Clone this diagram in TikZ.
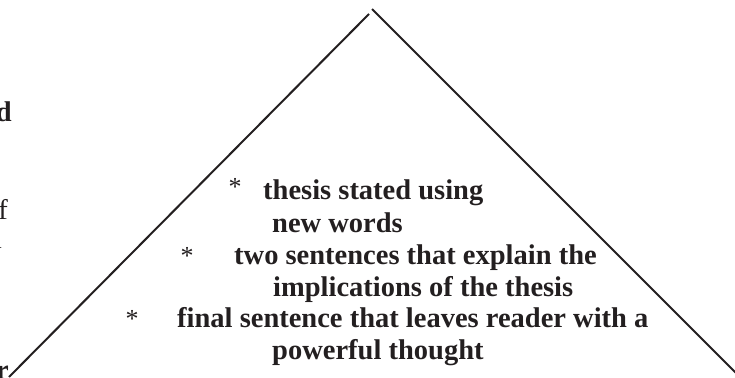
\documentclass[tikz,border=0pt]{standalone}
\usepackage{fontspec}
\setmainfont{Liberation Serif}
\definecolor{ink}{HTML}{231F20}
\begin{document}
\begin{tikzpicture}[x=1pt,y=1pt,
  txt/.style={inner sep=0pt, anchor=base west, font=\bfseries\fontsize{28.5}{33}\selectfont, text=ink},
  side/.style={inner sep=0pt, anchor=base east, font=\fontsize{28.5}{33}\selectfont, text=ink},
  star/.style={inner sep=0pt, font=\fontsize{26}{30}\selectfont, text=ink},
  edge/.style={line width=2pt, ink}]
\useasboundingbox (0,0) rectangle (735,377);
\clip (0,0) rectangle (735,377);
% pyramid sides
\coordinate (topL) at (369,363);
\coordinate (botL) at (9,0);
\coordinate (topR) at (372,368);
\coordinate (botR) at (737,3);
\draw[edge] (botL) -- (topL);
\draw[edge] (topR) -- (botR);
% clipped text of a left column
\node[side, font=\bfseries\fontsize{28.5}{33}\selectfont] (s1) at (12,255) {and};
\node[side] (s2) at (8,157) {of};
\node[side] (s3) at (2,128) {in};
\node[side, font=\bfseries\fontsize{28.5}{33}\selectfont] (s4) at (9,-2) {for};
% stars
\node[star, anchor=center] (st1) at (235,190) {*};
\node[star, anchor=center] (st2) at (187,121) {*};
\node[star, anchor=center] (st3) at (132,58) {*};
% text
\node[txt] (l1) at (263,177) {thesis stated using};
\node[txt] (l2) at (272,144) {new words};
\node[txt] (l3) at (234,112) {two sentences that explain the};
\node[txt] (l4) at (273,80) {implications of the thesis};
\node[txt] (l5) at (177,49) {final sentence that leaves reader with a};
\node[txt] (l6) at (272,17) {powerful thought};
\end{tikzpicture}
\end{document}
